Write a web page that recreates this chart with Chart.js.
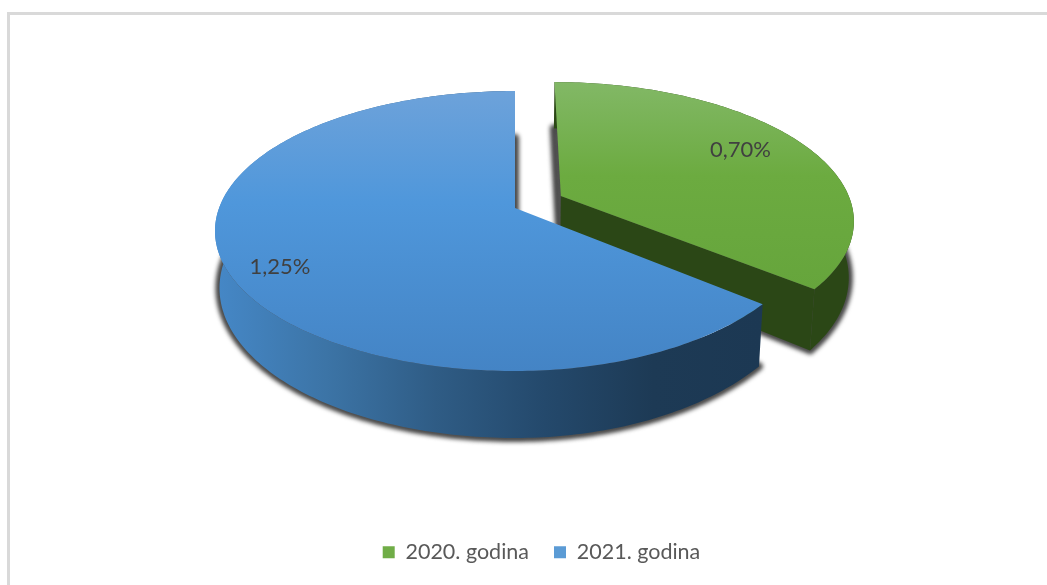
<!DOCTYPE html>
<html>
<head>
<meta charset="utf-8">
<script src="https://cdn.jsdelivr.net/npm/chart.js@4"></script>
<style>
html,body{margin:0;padding:0;background:#fff;overflow:hidden}
#frame{position:absolute;left:7px;top:12px;width:1100px;height:640px;border-left:3px solid #d9d9d9;border-top:3px solid #d9d9d9}
#c{position:absolute;left:0;top:0}
</style>
</head>
<body>
<div id="frame"></div>
<canvas id="c" width="1047" height="585"></canvas>
<script>
const categories = ['2020. godina', '2021. godina'];
const values = [0.70, 1.25];
const legendColors = ['#70ad47', '#5b9bd5'];

// look of the tilted pie (Chart.js has no 3d, the arcs only give the angles)
const view = {cx:515, cy:231, rx:300, ry:140, skew:0.164, depth:57, depthFront:10, shrink:0.985};
const sliceLean = [0, 0.05];   // front right of the blue rim sits a bit further in
const sliceWidth = [0.987, 1]; // the exploded slice is further back, so a bit narrower
const labelAngles = [60.6, 241.4];   // degrees from the top
const labelRadii = [0.76, 0.845];
const topStops = [
  [[0,'#82b866'],[0.45,'#6cab40'],[1,'#66a53c']],
  [[0,'#6da2da'],[0.4,'#4f97db'],[1,'#4484c5']]
];
const wallStops = [
  [[0,'#2b4716'],[1,'#2b4716']],
  [[0,'#4587c6'],[0.2,'#3c74a6'],[0.4,'#2f5c85'],[0.6,'#24496c'],[0.8,'#1d3a55'],[1,'#1c3853']]
];

// disc point -> screen, perspective keeps the circle an ellipse but moves the centre up
function project(u, v){
  const a = view.skew, d = 1 - a*v;
  const X = u*Math.sqrt(1-a*a)/d, Y = (v-a)/d;
  return {x:view.cx + view.rx*X, y:view.cy + view.ry*Y, Y:Y};
}
function drop(p){
  return {x:view.cx + (p.x-view.cx)*view.shrink, y:p.y + view.depth + view.depthFront*p.Y};
}
function tracePath(ctx, pts){
  ctx.beginPath();
  pts.forEach((p,i)=> i ? ctx.lineTo(p.x,p.y) : ctx.moveTo(p.x,p.y));
  ctx.closePath();
}
function gradient(ctx, x0, y0, x1, y1, stops){
  const g = ctx.createLinearGradient(x0,y0,x1,y1);
  stops.forEach(s=>g.addColorStop(s[0],s[1]));
  return g;
}

const pie3d = {
  id:'pie3d',
  beforeDatasetsDraw(chart){
    const ctx = chart.ctx;
    const arcs = chart.getDatasetMeta(0).data;
    const shapes = arcs.map((arc,k)=>{
      const o = arc.getProps(['startAngle','endAngle'], true);
      const mid = (o.startAngle+o.endAngle)/2;
      const off = arc.options.offset/100;
      const du = Math.cos(mid)*off, dv = Math.sin(mid)*off*1.2;
      const rim = [];
      const n = Math.ceil((o.endAngle-o.startAngle)*60);
      for(let i=0;i<=n;i++){
        const t = o.startAngle + (o.endAngle-o.startAngle)*i/n;
        const u = Math.cos(t), v = Math.sin(t);
        rim.push(project((u - sliceLean[k]*Math.max(0,u)*Math.max(0,v))*sliceWidth[k] + du, v + dv));
      }
      return {rim, apex:project(du,dv), du, dv};
    });

    // soft shadow under the bottom faces
    ctx.save();
    ctx.filter = 'blur(2px)';
    ctx.fillStyle = ctx.strokeStyle = '#4a4a4a';
    ctx.lineWidth = 8;
    ctx.lineJoin = 'round';
    shapes.forEach(s=>{
      tracePath(ctx, [drop(s.apex)].concat(s.rim.map(drop)));
      ctx.fill();
      ctx.stroke();
    });
    ctx.restore();

    shapes.forEach((s,i)=>{
      const bottom = s.rim.map(drop).reverse();
      ctx.fillStyle = gradient(ctx, 218, 0, 762, 0, wallStops[i]);
      tracePath(ctx, s.rim.concat(bottom));
      ctx.fill();
      // cut face at the end of the slice
      const last = s.rim[s.rim.length-1];
      tracePath(ctx, [s.apex, last, drop(last), drop(s.apex)]);
      ctx.fill();
      ctx.fillStyle = gradient(ctx, 0, s.rim.reduce((m,p)=>Math.min(m,p.y),1e4), 0, i ? 371 : 290, topStops[i]);
      tracePath(ctx, [s.apex].concat(s.rim));
      ctx.fill();
    });

    ctx.fillStyle = '#404040';
    ctx.font = '22px Lato';
    ctx.textAlign = 'center';
    ctx.textBaseline = 'middle';
    shapes.forEach((s,i)=>{
      const t = labelAngles[i]*Math.PI/180;
      const p = project(Math.sin(t)*labelRadii[i]+s.du, -Math.cos(t)*labelRadii[i]+s.dv);
      ctx.fillText(values[i].toFixed(2).replace('.',',')+'%', p.x, p.y);
    });
    return false;
  }
};

new Chart(document.getElementById('c').getContext('2d'), {
  type:'pie',
  data:{labels:categories, datasets:[{data:values, backgroundColor:legendColors, borderWidth:0, offset:[17.4,0]}]},
  options:{
    responsive:false,
    animation:false,
    layout:{padding:{left:36, bottom:12}},
    plugins:{
      tooltip:{enabled:false},
      legend:{position:'bottom', labels:{boxWidth:12, boxHeight:12, font:{family:'Lato', size:21.5}, color:'#595959', padding:25}}
    }
  },
  plugins:[pie3d]
});
</script>
</body>
</html>
